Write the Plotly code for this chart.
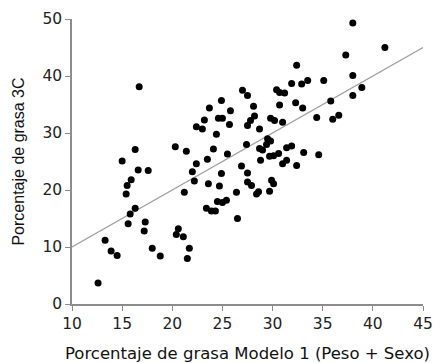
import plotly.graph_objects as go

modelo1 = [12.6, 13.3, 13.9, 14.5, 15.0, 15.4, 15.5, 15.9, 15.6, 15.8, 16.3, 16.3, 16.6, 16.7, 17.6,
           17.3, 17.2, 18.0, 18.8, 20.3, 20.6, 20.4, 21.1, 21.7, 21.5, 21.2, 21.4, 22.0, 22.2, 22.4,
           22.4, 23.0, 23.2, 23.5, 23.6, 23.7, 23.4, 23.9, 24.3, 24.1, 24.4, 24.6, 25.0, 24.9, 24.9,
           24.7, 24.5, 25.0, 25.4, 25.5, 25.7, 25.8, 26.4, 26.5, 26.9, 27.0, 27.5, 27.4, 27.5, 27.5,
           27.9, 28.1, 28.2, 27.8, 27.5, 28.7, 28.7, 29.0, 28.8, 28.6, 28.4, 29.5, 29.8, 29.4, 29.7,
           30.1, 30.6, 29.7, 30.1, 29.9, 29.8, 30.2, 30.4, 30.7, 31.2, 30.7, 31.0, 31.0, 31.4, 31.4,
           31.9, 32.4, 32.3, 32.4, 31.9, 32.9, 33.5, 33.0, 33.1, 34.6, 34.4, 35.1, 35.8, 36.0, 36.6,
           37.3, 38.0, 38.0, 38.0, 38.9, 41.2]
grasa_3c = [3.7, 11.2, 9.3, 8.5, 25.1, 19.3, 20.8, 21.8, 14.1, 15.8, 16.8, 27.1, 23.5, 38.1, 23.4,
            14.4, 12.8, 9.8, 8.4, 27.6, 13.2, 12.2, 11.8, 9.8, 8.0, 19.6, 26.8, 23.2, 21.6, 24.6,
            31.1, 30.7, 32.3, 25.4, 21.1, 34.4, 16.8, 16.3, 16.3, 27.2, 29.8, 32.6, 32.6, 35.7, 22.9,
            20.7, 18.0, 17.8, 18.2, 26.3, 31.5, 33.9, 19.6, 15.0, 24.2, 37.5, 36.6, 28.0, 23.0, 21.4,
            20.8, 34.7, 33.0, 32.2, 31.3, 30.7, 27.3, 27.0, 25.2, 19.7, 19.3, 29.0, 28.6, 28.0, 25.9,
            26.0, 26.4, 19.8, 21.1, 21.7, 32.6, 32.2, 37.6, 37.1, 37.0, 34.9, 31.9, 24.6, 25.2, 27.4,
            27.7, 24.3, 35.3, 41.9, 38.7, 38.6, 39.2, 34.4, 26.6, 26.2, 32.7, 39.2, 35.6, 32.4, 33.1,
            43.7, 49.3, 40.1, 36.6, 38.0, 45.0]

linea_x = [10, 45]
linea_y = [10, 45]

x_ticks = [10, 15, 20, 25, 30, 35, 40, 45]
y_ticks = [0, 10, 20, 30, 40, 50]

fig = go.Figure()
fig.add_trace(go.Scatter(x=linea_x, y=linea_y, mode="lines",
                         line=dict(color="#a0a0a0", width=1.3), hoverinfo="skip"))
fig.add_trace(go.Scatter(x=modelo1, y=grasa_3c, mode="markers",
                         marker=dict(color="black", size=7, line=dict(width=0))))

axis_common = dict(showgrid=False, zeroline=False, showline=True, linecolor="#8c8c8c",
                   linewidth=1.5, ticks="outside", ticklen=5, tickcolor="#8c8c8c", tickwidth=1.2,
                   automargin=False,
                   tickfont=dict(family="DejaVu Sans", size=15.5, color="#222"))

fig.update_xaxes(range=[10, 45], tickvals=x_ticks, **axis_common,
                 title=dict(text="Porcentaje de grasa Modelo 1 (Peso + Sexo)",
                            font=dict(family="DejaVu Sans", size=16.5, color="#111"),
                            standoff=18))
fig.update_yaxes(range=[0, 50], tickvals=y_ticks, **axis_common,
                 title=dict(text="Porcentaje de grasa 3C",
                            font=dict(family="Liberation Sans, Arial", size=16, color="#111"),
                            standoff=14))

fig.update_layout(width=447, height=363, showlegend=False,
                  plot_bgcolor="white", paper_bgcolor="white",
                  margin=dict(l=72, r=24, t=19, b=59))

fig.write_html("out.html")
